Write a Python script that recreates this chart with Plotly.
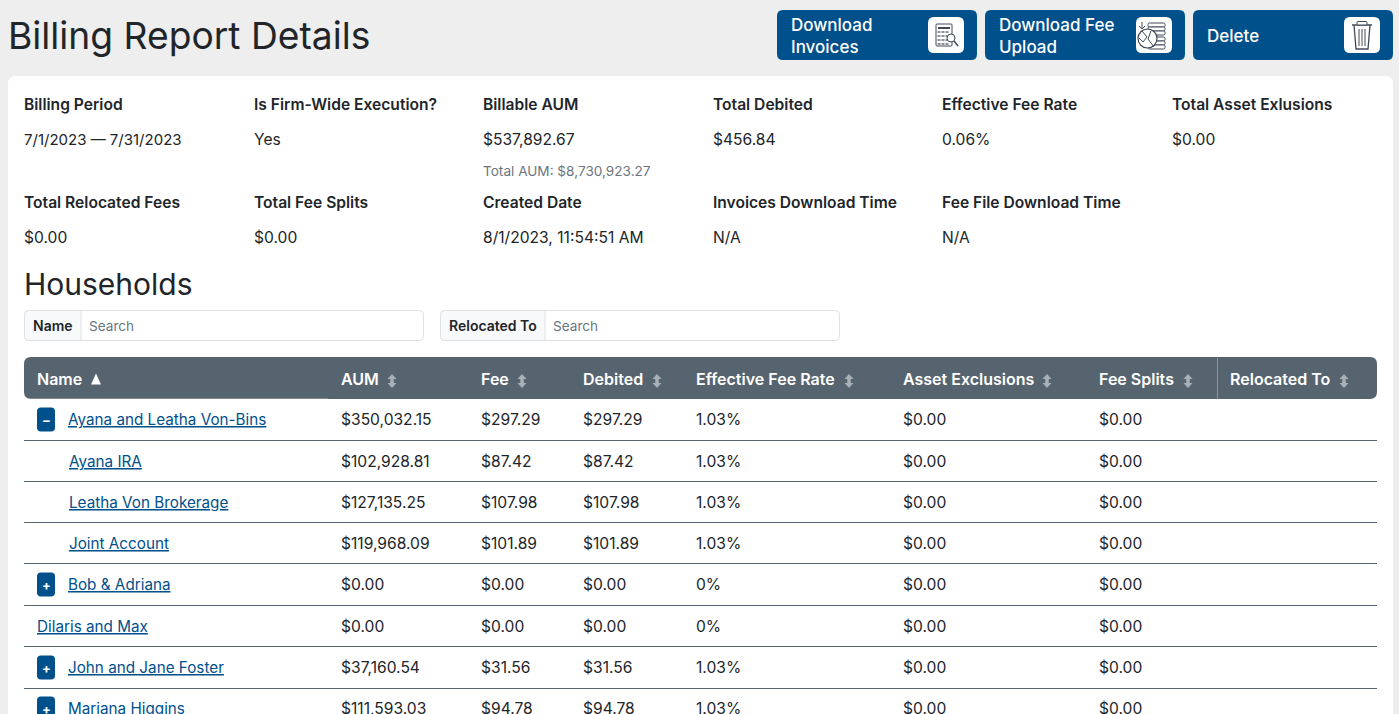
import plotly.graph_objects as go

PAGE_TITLE = "Billing Report Details"
BUTTONS = ["Download<br>Invoices", "Download Fee<br>Upload", "Delete"]
SUMMARY_LABELS_1 = ["Billing Period", "Is Firm-Wide Execution?", "Billable AUM", "Total Debited", "Effective Fee Rate", "Total Asset Exlusions"]
SUMMARY_VALUES_1 = ["7/1/2023 — 7/31/2023", "Yes", "$537,892.67", "$456.84", "0.06%", "$0.00"]
TOTAL_AUM = "Total AUM: $8,730,923.27"
SUMMARY_LABELS_2 = ["Total Relocated Fees", "Total Fee Splits", "Created Date", "Invoices Download Time", "Fee File Download Time"]
SUMMARY_VALUES_2 = ["$0.00", "$0.00", "8/1/2023, 11:54:51 AM", "N/A", "N/A"]
SECTION = "Households"
HEADERS = ["Name", "AUM", "Fee", "Debited", "Effective Fee Rate", "Asset Exclusions", "Fee Splits", "Relocated To"]
NAMES = ["Ayana and Leatha Von-Bins", "Ayana IRA", "Leatha Von Brokerage", "Joint Account", "Bob & Adriana", "Dilaris and Max", "John and Jane Foster", "Mariana Higgins"]
TOGGLES = ["−", "", "", "", "+", "", "+", "+"]
AUM = ["$350,032.15", "$102,928.81", "$127,135.25", "$119,968.09", "$0.00", "$0.00", "$37,160.54", "$111,593.03"]
FEE = ["$297.29", "$87.42", "$107.98", "$101.89", "$0.00", "$0.00", "$31.56", "$94.78"]
DEBITED = ["$297.29", "$87.42", "$107.98", "$101.89", "$0.00", "$0.00", "$31.56", "$94.78"]
RATE = ["1.03%", "1.03%", "1.03%", "1.03%", "0%", "0%", "1.03%", "1.03%"]
EXCLUSIONS = ["$0.00"] * 8
SPLITS = ["$0.00"] * 8

FONT = "Inter"
DARK = "#212529"
BLUE = "#00508c"
HEAD = "#566470"
shapes, notes = [], []


def text(x, y, s, size=15.6, color=DARK, weight=400, anchor="left"):
    notes.append(dict(x=x, y=y, text=s, showarrow=False, xanchor=anchor, yanchor="middle", align="left",
                      xref="x", yref="y", borderpad=0, borderwidth=0,
                      font=dict(family=FONT, size=size, color=color, weight=weight)))


def rr(x0, y0, x1, y1, r=6, fill="#fff", line=None, lw=1, corners=(1, 1, 1, 1)):
    a, b, c, d = [r * k for k in corners]
    p = (f"M{x0+a},{y0} L{x1-b},{y0} Q{x1},{y0} {x1},{y0+b} L{x1},{y1-c} Q{x1},{y1} {x1-c},{y1} "
         f"L{x0+d},{y1} Q{x0},{y1} {x0},{y1-d} L{x0},{y0+a} Q{x0},{y0} {x0+a},{y0} Z")
    shapes.append(dict(type="path", path=p, fillcolor=fill, layer="below",
                       line=dict(color=line or fill, width=lw if line else 0)))


def seg(x0, y0, x1, y1, color, w=1):
    shapes.append(dict(type="line", x0=x0, y0=y0, x1=x1, y1=y1, layer="below", line=dict(color=color, width=w)))


def poly(pts, fill=None, line=None, w=1):
    p = "M" + " L".join(f"{x},{y}" for x, y in pts) + (" Z" if fill else "")
    shapes.append(dict(type="path", path=p, fillcolor=fill or "rgba(0,0,0,0)", layer="below",
                       line=dict(color=line or "rgba(0,0,0,0)", width=w if line else 0)))


def sort_arrow(x, y, color="#a9b1b7"):
    poly([(x - 4.5, y - 2), (x, y - 7), (x + 4.5, y - 2)], fill=color)
    poly([(x - 4.5, y + 2), (x, y + 7), (x + 4.5, y + 2)], fill=color)
    seg(x, y - 3, x, y + 3, color, 3.5)


# page and card
rr(8, 76, 1393, 760, 8)
text(8, 35, PAGE_TITLE, size=37.2)

# buttons
for bx, label in zip([777, 985, 1193], BUTTONS):
    rr(bx, 10, bx + 200, 60, 6, fill=BLUE)
    rr(bx + 151, 17, bx + 187, 53, 6, fill="#fff")
    text(bx + 13.5, 36, label, size=17, color="#fff", weight=500)

ic = "#3f4a56"
# calculator icon
rr(936, 24, 952, 46, 1, fill="#fff", line=ic, lw=1)
seg(938, 28, 950, 28, ic, 2)
for gx in (939, 943, 947):
    for gy in (32, 36, 40, 44):
        seg(gx - 1.5, gy, gx + 1.5, gy, "#8a929a", 2)
shapes.append(dict(type="circle", x0=947, y0=34, x1=955, y1=42, fillcolor="#fff", layer="below", line=dict(color=ic, width=1)))
seg(954, 41, 958, 46, ic, 1.5)
# globe & stack icon
for sy in (23, 27, 31, 37, 41, 45):
    rr(1148, sy, 1165, sy + 4, 1.5, fill="#fff", line=ic, lw=1)
shapes.append(dict(type="circle", x0=1138, y0=29, x1=1157, y1=48, fillcolor="#fff", layer="below", line=dict(color=ic, width=1.2)))
poly([(1142, 31), (1147, 37), (1143, 42), (1139, 38)], line=ic)
poly([(1151, 31), (1148, 39), (1154, 47)], line=ic)
seg(1142, 22, 1142, 29, ic, 1)
poly([(1139, 26), (1142, 29), (1145, 26)], line=ic)
# trash icon
seg(1352, 25, 1372, 25, ic, 1.5)
rr(1357, 21.5, 1367, 25, 1, fill="#fff", line=ic, lw=1)
poly([(1354, 25), (1356, 49), (1368, 49), (1370, 25)], line=ic, w=1.3)
for tx in (1359, 1362, 1365):
    seg(tx, 29, tx, 46, ic, 1)

# summary
cols = [24, 254, 483, 713, 942, 1172]
for x, l, v in zip(cols, SUMMARY_LABELS_1, SUMMARY_VALUES_1):
    text(x, 104, l, weight=600)
    text(x, 139, v, size=15 if x == 24 else 15.6)
text(483, 170.5, TOTAL_AUM, size=13.6, color="#6c757d")
for x, l, v in zip(cols, SUMMARY_LABELS_2, SUMMARY_VALUES_2):
    text(x, 202, l, weight=600)
    text(x, 237, v)
text(24, 283.5, SECTION, size=30)

# search boxes
for x0, x1, xs, lab in [(24, 424, 81, "Name"), (440, 840, 545, "Relocated To")]:
    rr(x0 + .5, 310.5, x1 - .5, 340.5, 4, fill="#fff", line="#dee2e6")
    rr(x0 + .5, 310.5, xs, 340.5, 4, fill="#f8f9fa", line="#dee2e6", corners=(1, 0, 0, 1))
    text(x0 + 9, 325.5, lab, size=14, weight=600)
    text(xs + 8, 325.5, "Search", size=13.6, color="#6c757d")

# table
col_x = [37, 341, 481, 583, 696, 903, 1099, 1230]
arrow_x = [None, 392, 522, 657, 849, 1047, 1188, 1344]
rr(24, 357, 1377, 399, 7, fill=HEAD)
seg(1217.5, 358, 1217.5, 399, "#8793a0", 1)
seg(24, 399.5, 328, 399.5, "#fff", 1.5)
for x, h, a in zip(col_x, HEADERS, arrow_x):
    text(x, 378.5, h, size=16, color="#fff", weight=600)
    if a:
        sort_arrow(a, 381)
poly([(91, 384.5), (96, 373.5), (101, 384.5)], fill="#fff")

row_y = [419, 461, 502, 543, 584, 626, 667, 708]
rule_y = [440.5, 481.5, 522.5, 563.5, 605.5, 646.5, 688.5]
for y in rule_y:
    seg(24, y, 1377, y, HEAD, 1)
for y, name, tog, *vals in zip(row_y, NAMES, TOGGLES, AUM, FEE, DEBITED, RATE, EXCLUSIONS, SPLITS):
    nx = 68 if tog else (69 if name in NAMES[1:4] else 37)
    if tog:
        rr(37, y - 11.5, 55, y + 12.5, 4, fill=BLUE)
        text(46, y + 1, tog, size=13, color="#fff", weight=700, anchor="center")
    text(nx, y, f"<u>{name}</u>", size=15.25, color=BLUE)
    for x, v in zip(col_x[1:], vals):
        text(x, y, v)

fig = go.Figure()
fig.update_layout(
    width=1399, height=714, margin=dict(l=0, r=0, t=0, b=0), autosize=False,
    paper_bgcolor="#eeeeee", plot_bgcolor="rgba(0,0,0,0)", showlegend=False,
    xaxis=dict(range=[0, 1399], visible=False, fixedrange=True),
    yaxis=dict(range=[714, 0], visible=False, fixedrange=True),
    shapes=shapes, annotations=notes,
)
fig.write_html("out.html", config=dict(displayModeBar=False), post_script="document.body.style.margin='0';")
